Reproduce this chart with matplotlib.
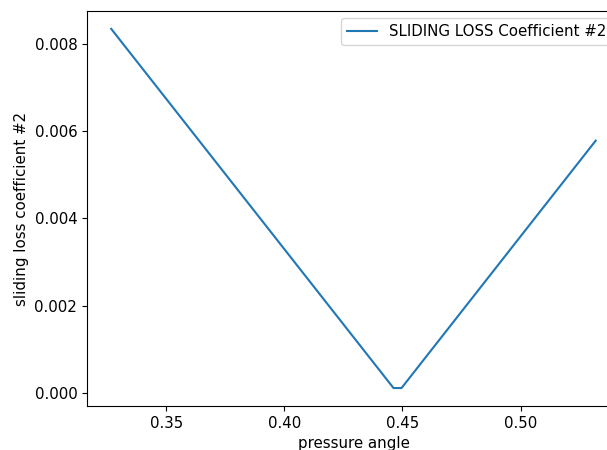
import matplotlib
matplotlib.use("Agg")
import matplotlib.pyplot as plt

# values
pressure_angle = [0.3267, 0.4462, 0.4496, 0.5318]
sliding_loss_2 = [0.00834, 0.000115, 0.000115, 0.00578]

plt.rcParams["font.size"] = 10.8

fig = plt.figure(figsize=(6.07, 4.5), dpi=100)
# the reference is cropped: right spine sits just past the canvas edge
ax = fig.add_axes([0.1433, 0.0978, 0.878, 0.878])
ax.plot(pressure_angle, sliding_loss_2, label="SLIDING LOSS Coefficient #2")
ax.set_xlabel("pressure angle")
ax.set_ylabel("sliding loss coefficient #2")
ax.set_xticks([0.35, 0.40, 0.45, 0.50])
ax.set_yticks([0.000, 0.002, 0.004, 0.006, 0.008])
ax.legend(loc="upper right")
fig.savefig("out.png", dpi=100)
